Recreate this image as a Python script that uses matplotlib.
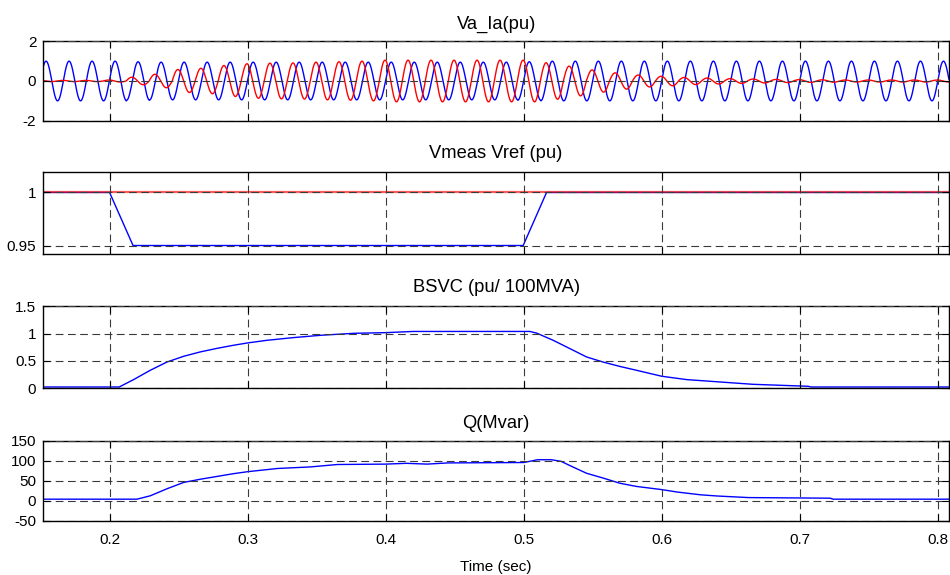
import numpy as np
import matplotlib
matplotlib.use("Agg")
import matplotlib.pyplot as plt
from matplotlib import font_manager

_names = {f.name for f in font_manager.fontManager.ttflist}
if 'Liberation Sans Narrow' in _names:
    plt.rcParams['font.family'] = ['Liberation Sans Narrow', 'DejaVu Sans']
    FS = 12
else:
    plt.rcParams['font.family'] = ['Liberation Sans', 'DejaVu Sans']
    FS = 11
plt.rcParams['font.size'] = FS
plt.rcParams['axes.unicode_minus'] = False

# ---- data -------------------------------------------------------------
t_start, t_end = 0.152, 0.808
f_grid = 60.0                 # Hz
t_peak0 = 0.154               # time of first voltage crest
i_lead = 0.0045               # current leads voltage (s)

# per-cycle crest amplitudes (pu), one value per 60 Hz cycle starting at t_peak0
va_amp = [1.0, 1.0, 1.0, 1.0, 0.97, 0.95, 0.95, 0.95, 0.95, 0.95,
          0.95, 0.95, 0.95, 0.95, 0.95, 0.95, 0.95, 0.95, 0.95, 0.95,
          0.95, 0.97, 1.0, 1.0, 1.0, 1.0, 1.0, 1.0, 1.0, 1.0,
          1.0, 1.0, 1.0, 1.0, 1.0, 1.0, 1.0, 1.0, 1.0, 1.0]
ia_amp = [0.03, 0.03, 0.03, 0.05, 0.19, 0.34, 0.58, 0.64, 0.78, 0.87,
          0.90, 0.91, 0.95, 0.97, 1.0, 1.05, 1.05, 1.05, 1.05, 1.05,
          1.05, 1.05, 0.92, 0.75, 0.56, 0.41, 0.30, 0.24, 0.18, 0.15,
          0.12, 0.10, 0.08, 0.07, 0.06, 0.05, 0.05, 0.05, 0.05, 0.05]

# Vmeas / Vref (pu)
vmeas_t = [0.152, 0.200, 0.217, 0.4996, 0.5165, 0.808]
vmeas_v = [1.0, 1.0, 0.95, 0.95, 1.0, 1.0]
vref_t = [0.152, 0.808]
vref_v = [1.0, 1.0]

# SVC susceptance (pu/100MVA)
bsvc_t = [0.152, 0.207, 0.2174, 0.2295, 0.2415, 0.2536, 0.2656, 0.2777,
          0.2897, 0.300, 0.314, 0.333, 0.353, 0.377, 0.400, 0.420, 0.5044,
          0.5093, 0.5213, 0.5334, 0.5455, 0.5575, 0.5696, 0.5816, 0.600,
          0.618, 0.642, 0.666, 0.706, 0.708, 0.808]
bsvc_v = [0.024, 0.024, 0.159, 0.33, 0.48, 0.585, 0.665, 0.73,
          0.787, 0.83, 0.878, 0.927, 0.97, 1.006, 1.018, 1.04, 1.04,
          1.01, 0.878, 0.726, 0.573, 0.48, 0.40, 0.33, 0.22,
          0.159, 0.116, 0.073, 0.037, 0.024, 0.024]

# SVC reactive power (Mvar)
q_t = [0.152, 0.2198, 0.2295, 0.2415, 0.2536, 0.2656, 0.2777, 0.2897,
       0.300, 0.3215, 0.3456, 0.365, 0.400, 0.415, 0.430, 0.445, 0.500,
       0.510, 0.520, 0.527, 0.533, 0.5455, 0.5575, 0.5696, 0.5816, 0.600,
       0.611, 0.628, 0.640, 0.663, 0.722, 0.724, 0.808]
q_v = [4, 4, 12.5, 30, 46, 54, 61, 68,
       73, 81, 85, 91, 92, 94, 92, 95, 96,
       103, 103, 99, 89, 69, 57, 44, 36, 28,
       22, 15, 12, 8, 6.5, 4, 4]

# ---- waveform samples ---------------------------------------------------
t = np.arange(t_start, t_end, 1.0 / (f_grid * 96))
cyc = np.clip(np.round((t - t_peak0) * f_grid).astype(int), 0, len(va_amp) - 1)
va = np.asarray(va_amp)[cyc] * np.cos(2 * np.pi * f_grid * (t - t_peak0))
ia = np.asarray(ia_amp)[cyc] * np.cos(2 * np.pi * f_grid * (t - t_peak0 + i_lead))

# ---- figure -------------------------------------------------------------
W, H = 950, 575
fig = plt.figure(figsize=(W / 100, H / 100), dpi=100)

left = 43.3 / W
width = (949 - 43.3) / W
boxes = [(41.3, 120.7), (172.3, 254.0), (306.3, 388.3), (441.0, 520.7)]
axes = []
for top, bot in boxes:
    ax = fig.add_axes([left, 1 - bot / H, width, (bot - top) / H])
    axes.append(ax)

blue = (0, 0, 1)
red = (1, 0, 0)
lw = 1.0
xticks = [0.2, 0.3, 0.4, 0.5, 0.6, 0.7, 0.8]

ax1, ax2, ax3, ax4 = axes
ax1.plot(t, va, color=blue, lw=lw)
ax1.plot(t, ia, color=red, lw=lw)
ax1.set_ylim(-2, 2)
ax1.set_yticks([-2, 0, 2])
ax1.set_title('Va_Ia(pu)', pad=9)

ax2.plot(vmeas_t, vmeas_v, color=blue, lw=lw)
ax2.plot(vref_t, vref_v, color=red, lw=1.6, alpha=0.65)
ax2.set_ylim(0.942, 1.019)
ax2.set_yticks([0.95, 1.0])
ax2.set_yticklabels(['0.95', '1'])
ax2.set_title('Vmeas Vref (pu)', pad=10)

ax3.plot(bsvc_t, bsvc_v, color=blue, lw=lw)
ax3.set_ylim(0, 1.5)
ax3.set_yticks([0, 0.5, 1, 1.5])
ax3.set_yticklabels(['0', '0.5', '1', '1.5'])
ax3.set_title('BSVC (pu/ 100MVA)', pad=10)

ax4.plot(q_t, q_v, color=blue, lw=lw)
ax4.set_ylim(-50, 150)
ax4.set_yticks([-50, 0, 50, 100, 150])
ax4.set_title('Q(Mvar)', pad=9)
ax4.set_xlabel('Time (sec)', labelpad=9)

for ax in axes:
    ax.set_xlim(t_start, t_end)
    ax.set_xticks(xticks)
    ax.set_axisbelow(False)
    ax.grid(True, color='#3a3a3a', lw=0.8, linestyle=(0, (7, 4)))
    ax.tick_params(direction='in', length=5, width=0.8, top=True, right=True,
                   labelsize=FS, pad=5, colors='black')
    ax.tick_params(axis='x', pad=9)
    for s in ax.spines.values():
        s.set_linewidth(1.0)
        s.set_color('black')
    if ax is not ax4:
        ax.set_xticklabels([])
    else:
        ax.set_xticklabels(['0.2', '0.3', '0.4', '0.5', '0.6', '0.7', '0.8'])

fig.savefig('out.png', dpi=100)
